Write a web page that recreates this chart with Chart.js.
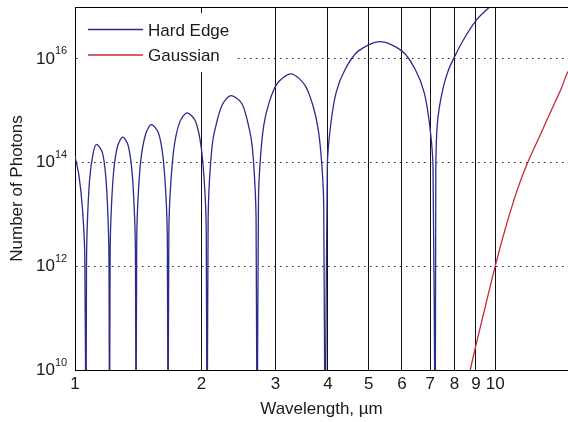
<!DOCTYPE html>
<html>
<head>
<meta charset="utf-8">
<script src="https://cdn.jsdelivr.net/npm/chart.js@4/dist/chart.umd.min.js"></script>
<style>
  html, body { margin: 0; padding: 0; background: #fff; }
  #wrap { width: 568px; height: 422px; }
</style>
</head>
<body>
<div id="wrap"><canvas id="chart" width="568" height="422"></canvas></div>
<script>
// --- data ---
// wavelength (um) for the hard edge curve, lobe by lobe; 1e8 marks a null (below the axis)
const hardEdgeX = [
  1.000, 1.022, 1.042, 1.055, 1.062,
  1.065, 1.069, 1.083, 1.104, 1.125, 1.162, 1.185, 1.200, 1.205, 1.208,
  1.212, 1.217, 1.235, 1.262, 1.299, 1.338, 1.367, 1.387, 1.393, 1.397,
  1.402, 1.409, 1.434, 1.473, 1.519, 1.580, 1.622, 1.651, 1.659, 1.665,
  1.672, 1.683, 1.719, 1.775, 1.848, 1.934, 1.997, 2.040, 2.053, 2.062,
  2.074, 2.090, 2.119, 2.148, 2.239, 2.352, 2.498, 2.603, 2.639, 2.675, 2.697, 2.712,
  2.733, 2.763, 2.815, 2.900, 3.033, 3.268, 3.521, 3.683, 3.794, 3.865, 3.907, 3.938,
  3.985, 4.058, 4.182, 4.389, 4.719, 5.324, 6.006, 6.457, 6.776, 6.983, 7.111, 7.197,
  7.221, 7.264, 7.357, 7.532, 7.729, 7.957, 8.405, 9.046, 9.693, 10.28
];
const hardEdgeY = [
  1.32e14, 5.6e13, 1.26e13, 1.58e12, 1e8,
  8.9e11, 5.5e12, 4.57e13, 1.48e14, 2.24e14, 1.55e14, 4.79e13, 6.03e12, 9.3e11, 1e8,
  1.23e12, 7.59e12, 6.31e13, 2.04e14, 3.09e14, 2.14e14, 6.61e13, 7.94e12, 1.26e12, 1e8,
  2.14e12, 1.32e13, 1.10e14, 3.55e14, 5.37e14, 3.72e14, 1.15e14, 1.38e13, 2.24e12, 1e8,
  3.63e12, 2.24e13, 1.86e14, 6.03e14, 9.12e14, 6.31e14, 1.95e14, 2.34e13, 3.8e12, 1e8,
  7.76e12, 4.79e13, 2.04e14, 3.98e14, 1.29e15, 1.95e15, 1.35e15, 4.17e14, 2.14e14, 5.01e13, 8.32e12, 1e8,
  2.04e13, 1.26e14, 5.37e14, 1.48e15, 3.39e15, 5.13e15, 3.16e15, 1.26e15, 4.17e14, 9.55e13, 1.58e13, 1e8,
  8.51e13, 5.25e14, 2.24e15, 6.17e15, 1.41e16, 2.14e16, 1.41e16, 6.17e15, 2.24e15, 5.25e14, 8.51e13, 1e8,
  6.31e13, 4.27e14, 1.12e15, 2.95e15, 5.89e15, 1.0e16, 2.34e16, 5.75e16, 1.0e17, 1.58e17
];
const gaussianX = [8.577, 8.720, 9.011, 9.466, 10.0, 10.564, 11.098, 11.532, 11.983, 12.659, 13.226, 13.895, 14.360, 14.840, 15.09];
const gaussianY = [5.0e9, 9.9e9, 3.16e10, 1.64e11, 1.01e12, 5.26e12, 1.97e13, 4.86e13, 1.06e14, 2.82e14, 6.17e14, 1.49e15, 2.68e15, 5.32e15, 6.47e15];

const seriesLabels = ['Hard Edge', 'Gaussian'];
const seriesColors = ['#2b2b8c', '#c8283c'];
const xTicks = [1, 2, 3, 4, 5, 6, 7, 8, 9, 10];
const yTicks = [1e10, 1e12, 1e14, 1e16];
const xMin = 1, xMax = 14.9;
const yMin = 1e10, yMax = 1e17;

const FONT = '"Liberation Sans", Arial, Helvetica, sans-serif';
const textColor = '#1a1a1a';

// y labels as 10 with a raised exponent
const powerLabels = {
  id: 'powerLabels',
  afterDraw(chart) {
    const ctx = chart.ctx;
    const area = chart.chartArea;
    const sc = chart.scales.y;
    ctx.save();
    ctx.fillStyle = textColor;
    yTicks.forEach(v => {
      const py = sc.getPixelForValue(v);
      ctx.font = '17px ' + FONT;
      ctx.textAlign = 'right';
      ctx.textBaseline = 'middle';
      ctx.fillText('10', area.left - 20, py);
      ctx.font = '11px ' + FONT;
      ctx.textAlign = 'left';
      ctx.textBaseline = 'alphabetic';
      ctx.fillText(String(Math.round(Math.log10(v))), area.left - 20, py - 4.5);
    });
    // top of the box
    ctx.strokeStyle = '#000';
    ctx.lineWidth = 1;
    ctx.beginPath();
    ctx.moveTo(area.left, Math.round(area.top) + 0.5);
    ctx.lineTo(area.right, Math.round(area.top) + 0.5);
    ctx.stroke();
    ctx.restore();
  }
};

// legend inside the plot, top left, white box without frame
const insideLegend = {
  id: 'insideLegend',
  afterDatasetsDraw(chart) {
    const ctx = chart.ctx;
    const a = chart.chartArea;
    ctx.save();
    ctx.fillStyle = '#fff';
    ctx.fillRect(a.left + 3, a.top + 6, 157, 59);
    chart.data.datasets.forEach((ds, i) => {
      const ly = a.top + 22.5 + i * 25.5;
      ctx.strokeStyle = ds.borderColor;
      ctx.lineWidth = 1.3;
      ctx.beginPath();
      ctx.moveTo(a.left + 13, ly);
      ctx.lineTo(a.left + 68, ly);
      ctx.stroke();
      ctx.fillStyle = textColor;
      ctx.font = '17px ' + FONT;
      ctx.textAlign = 'left';
      ctx.textBaseline = 'middle';
      ctx.fillText(ds.label, a.left + 73, ly + 1.5);
    });
    ctx.restore();
  }
};

new Chart(document.getElementById('chart'), {
  type: 'line',
  data: {
    datasets: [
      {
        label: seriesLabels[0],
        data: hardEdgeX.map((x, i) => ({ x, y: hardEdgeY[i] })),
        borderColor: seriesColors[0],
        borderWidth: 1.3,
        pointRadius: 0,
        tension: 0.3,
        fill: false
      },
      {
        label: seriesLabels[1],
        data: gaussianX.map((x, i) => ({ x, y: gaussianY[i] })),
        borderColor: seriesColors[1],
        borderWidth: 1.3,
        pointRadius: 0,
        cubicInterpolationMode: 'monotone',
        fill: false
      }
    ]
  },
  options: {
    responsive: false,
    animation: false,
    devicePixelRatio: 1,
    layout: { padding: { top: 7, right: 0, left: 0, bottom: 0 } },
    plugins: {
      legend: { display: false },
      tooltip: { enabled: false }
    },
    scales: {
      x: {
        type: 'logarithmic',
        min: xMin,
        max: xMax,
        afterBuildTicks: sc => { sc.ticks = xTicks.map(v => ({ value: v })); },
        afterFit: sc => { sc.height = 52; },
        ticks: {
          autoSkip: false,
          maxRotation: 0,
          padding: 4,
          color: textColor,
          font: { family: FONT, size: 17 },
          callback: v => String(v)
        },
        grid: { color: '#111', lineWidth: 1, drawTicks: false },
        border: { color: '#000', width: 1 },
        title: {
          display: true,
          text: 'Wavelength, µm',
          color: textColor,
          font: { family: FONT, size: 17 },
          padding: { top: 0, bottom: 2 }
        }
      },
      y: {
        type: 'logarithmic',
        min: yMin,
        max: yMax,
        afterBuildTicks: sc => { sc.ticks = yTicks.map(v => ({ value: v })); },
        afterFit: sc => { sc.width = 75; },
        ticks: { display: false },
        grid: { color: '#222', lineWidth: 1, drawTicks: false },
        border: { color: '#000', width: 1, dash: [1.5, 4.5] },
        title: {
          display: true,
          text: 'Number of Photons',
          color: textColor,
          font: { family: FONT, size: 17 },
          padding: { top: 7, bottom: 0 }
        }
      }
    }
  },
  plugins: [insideLegend, powerLabels]
});
</script>
</body>
</html>
